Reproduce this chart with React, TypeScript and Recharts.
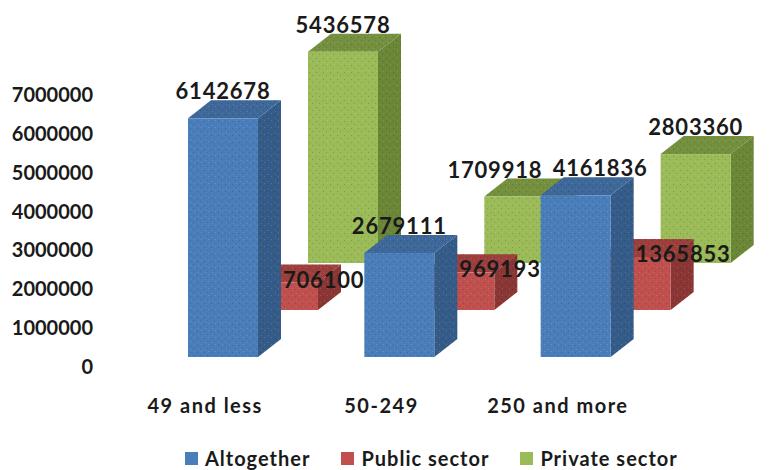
import { BarChart, Bar, XAxis, YAxis, LabelList } from "recharts";

const categories = ["49 and less", "50-249", "250 and more"];
const altogether = [6142678, 2679111, 4161836];
const publicSector = [706100, 969193, 1365853];
const privateSector = [5436578, 1709918, 2803360];
const yTicks = [0, 1000000, 2000000, 3000000, 4000000, 5000000, 6000000, 7000000];

const series = [
  { key: "altogether", name: "Altogether", front: "#4a7ebb", top: "#3d6899", side: "#355b88", values: altogether },
  { key: "publicSector", name: "Public sector", front: "#c0504d", top: "#9d3f3c", side: "#8a3634", values: publicSector },
  { key: "privateSector", name: "Private sector", front: "#9bbb59", top: "#74903e", side: "#6a8636", values: privateSector },
];

const data = categories.map((name, i) => ({
  name,
  altogether: altogether[i],
  publicSector: publicSector[i],
  privateSector: privateSector[i],
}));

const W = 769;
const H = 470;
const margin = { top: 95, right: 123, bottom: 43, left: 0 };
const Y_WIDTH = 117;
const BAND = (W - margin.left - margin.right - Y_WIDTH) / categories.length;

// depth placement of each series (front row -> back row)
const shiftX = [18, 78, 138];
const shiftY = [-10, -57, -104];
const DX = 23;
const DY = 18;
const FONT = "Lato, 'Open Sans', sans-serif";
const DIGIT_W = 13.6;

function Box(props: any) {
  const { x, y, width, height, s } = props;
  const c = series[s];
  const fx = x + shiftX[s];
  const fy = y + shiftY[s];
  const w = width;
  const h = height;
  const side = `${fx + w},${fy} ${fx + w + DX},${fy - DY} ${fx + w + DX},${fy + h - DY} ${fx + w},${fy + h}`;
  const top = `${fx},${fy} ${fx + w},${fy} ${fx + w + DX},${fy - DY} ${fx + DX},${fy - DY}`;
  return (
    <g>
      <polygon points={side} fill={c.side} />
      <polygon points={side} fill="url(#speckle)" />
      <polygon points={top} fill={c.top} />
      <polygon points={top} fill="url(#speckle)" />
      <rect x={fx} y={fy} width={w} height={h} fill={c.front} />
      <rect x={fx} y={fy} width={w} height={h} fill="url(#speckle)" />
    </g>
  );
}

// nudges blue / green labels apart when a green label meets the next blue one
function nudge(s: number, i: number, cx: number, base: number, pxPer: number, yLab: number) {
  const other = s === 0 ? 2 : 0;
  const j = s === 0 ? i - 1 : i + 1;
  const ov = series[other].values[j];
  if (ov === undefined) return 0;
  const ocx = cx + (s === 0 ? -BAND : BAND) + shiftX[other] - shiftX[s];
  const oy = base - ov * pxPer + shiftY[other] - DY - 1;
  if (Math.abs(oy - yLab) > 18) return 0;
  const wSelf = String(series[s].values[i]).length * DIGIT_W;
  const wOther = String(ov).length * DIGIT_W;
  const gap = s === 0 ? cx - wSelf / 2 - (ocx + wOther / 2) : ocx - wOther / 2 - (cx + wSelf / 2);
  const need = 10 - gap;
  if (need <= 0) return 0;
  return s === 0 ? need / 2 : -need / 2;
}

function ValueLabel(props: any) {
  const { x, y, width, height, value, index, s } = props;
  const fx = x + shiftX[s];
  const fy = y + shiftY[s];
  const cx = fx + width / 2;
  if (s === 1) {
    return (
      <text x={cx} y={fy + 5} textAnchor="start" fontFamily={FONT} fontSize={22} fontWeight={700} letterSpacing={0.8} fill="#1a1a1a">
        {value}
      </text>
    );
  }
  const yLab = fy - DY - 1;
  const pxPer = value ? height / value : 0;
  const dx = nudge(s, index, cx, y + height, pxPer, yLab);
  return (
    <text x={cx + dx} y={yLab} textAnchor="middle" fontFamily={FONT} fontSize={22} fontWeight={700} letterSpacing={0.8} fill="#1a1a1a">
      {value}
    </text>
  );
}

function CatTick(props: any) {
  const { x, y, payload } = props;
  return (
    <text x={x} y={y + 38} textAnchor="middle" fontFamily={FONT} fontSize={20} fontWeight={700} letterSpacing={1.5} fill="#1a1a1a">
      {payload.value}
    </text>
  );
}

function ValTick(props: any) {
  const { x, y, payload } = props;
  return (
    <text x={x} y={y + 7} textAnchor="end" fontFamily={FONT} fontSize={20} fontWeight={700} fill="#1a1a1a">
      {payload.value}
    </text>
  );
}

export default function App() {
  const order = [2, 1, 0];
  return (
    <div style={{ position: "fixed", left: 0, top: 0, width: W, height: H, background: "#fff", fontFamily: FONT }}>
      <BarChart width={W} height={H} data={data} margin={margin}>
        <defs>
          <pattern id="speckle" width="7" height="7" patternUnits="userSpaceOnUse">
            <rect x="1" y="2" width="1" height="1" fill="#000" opacity="0.18" />
            <rect x="4" y="5" width="1" height="1" fill="#000" opacity="0.15" />
            <rect x="5" y="1" width="1" height="1" fill="#fff" opacity="0.15" />
            <rect x="2" y="6" width="1" height="1" fill="#fff" opacity="0.12" />
          </pattern>
        </defs>
        <XAxis xAxisId={0} dataKey="name" axisLine={false} tickLine={false} tick={<CatTick />} height={60} interval={0} />
        <XAxis xAxisId={1} dataKey="name" hide />
        <XAxis xAxisId={2} dataKey="name" hide />
        <YAxis
          domain={[0, 7000000]}
          ticks={yTicks}
          axisLine={false}
          tickLine={false}
          width={Y_WIDTH}
          tick={<ValTick />}
          tickMargin={0}
          tickSize={24}
          interval={0}
        />
        {order.map((s) => (
          <Bar
            key={series[s].key}
            xAxisId={s}
            dataKey={series[s].key}
            name={series[s].name}
            barSize={70}
            fill={series[s].front}
            isAnimationActive={false}
            shape={(p: any) => <Box {...p} s={s} />}
          >
            <LabelList dataKey={series[s].key} content={(p: any) => <ValueLabel {...p} s={s} />} />
          </Bar>
        ))}
      </BarChart>
      <div
        style={{
          position: "absolute",
          top: 449,
          left: 185,
          display: "flex",
          alignItems: "center",
          fontSize: 20,
          lineHeight: "18px",
          fontWeight: 700,
          color: "#1a1a1a",
          whiteSpace: "nowrap",
        }}
      >
        {series.map((c, i) => (
          <div key={c.key} style={{ display: "flex", alignItems: "center", marginRight: i < 2 ? 31 : 0 }}>
            <span style={{ width: 13, height: 13, background: c.front, marginRight: 7, display: "inline-block" }} />
            <span style={{ letterSpacing: 1 }}>{c.name}</span>
          </div>
        ))}
      </div>
    </div>
  );
}
